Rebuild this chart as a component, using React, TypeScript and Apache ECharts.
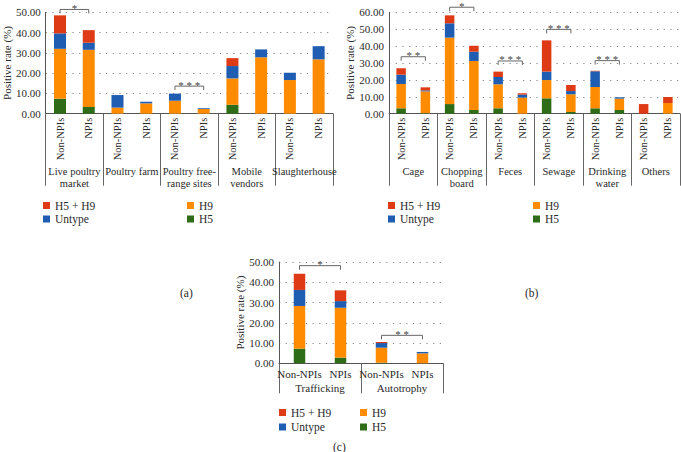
import React, { useEffect, useRef } from "react";
import * as echarts from "echarts";

// Subtype colours, stacked bottom to top: H5, H9, Untype, H5 + H9
const SUBTYPES = ["H5", "H9", "Untype", "H5 + H9"];
const COLORS: Record<string, string> = {
  H5: "#2E6C18",
  H9: "#FF8C00",
  Untype: "#1F5DB2",
  "H5 + H9": "#DF3A16",
};

// (a) sampling sites
const sitesA = ["Live poultry\nmarket", "Poultry farm", "Poultry free-\nrange sites", "Mobile\nvendors", "Slaughterhouse"];
const barsA = ["Non-NPIs", "NPIs", "Non-NPIs", "NPIs", "Non-NPIs", "NPIs", "Non-NPIs", "NPIs", "Non-NPIs", "NPIs"];
const h5A = [7.4, 3.3, 0, 0, 0, 0, 4.4, 0, 0, 0];
const h9A = [24.6, 28.2, 3.0, 5.1, 6.4, 2.3, 13.0, 27.8, 16.6, 26.8];
const untypeA = [7.6, 3.5, 6.2, 0.8, 3.5, 0.4, 6.1, 3.9, 3.6, 6.5];
const h5h9A = [8.9, 6.2, 0, 0, 0, 0, 3.9, 0, 0, 0];
const bracketsA = [
  [0, 1, 51.4, "*"],
  [4, 5, 13.6, "* * *"],
];

// (b) sample types
const sitesB = ["Cage", "Chopping\nboard", "Feces", "Sewage", "Drinking\nwater", "Others"];
const barsB = ["Non-NPIs", "NPIs", "Non-NPIs", "NPIs", "Non-NPIs", "NPIs", "Non-NPIs", "NPIs", "Non-NPIs", "NPIs", "Non-NPIs", "NPIs"];
const h5B = [3.2, 0.3, 5.7, 2.2, 3.2, 0, 9.1, 1.0, 3.2, 2.2, 0, 0];
const h9B = [14.4, 12.9, 39.3, 29.0, 14.2, 9.5, 10.8, 10.5, 12.6, 6.7, 0, 6.3];
const untypeB = [5.5, 0.6, 8.5, 5.5, 4.3, 1.8, 5.0, 1.9, 9.3, 0.8, 0, 0];
const h5h9B = [3.8, 1.8, 4.7, 3.5, 3.2, 0.8, 18.5, 3.6, 0.3, 0, 5.7, 3.6];
const bracketsB = [
  [0, 1, 33.7, "* *"],
  [2, 3, 63.0, "*"],
  [4, 5, 31.2, "* * *"],
  [6, 7, 49.9, "* * *"],
  [8, 9, 31.4, "* * *"],
];

// (c) poultry source
const sitesC = ["Trafficking", "Autotrophy"];
const barsC = ["Non-NPIs", "NPIs", "Non-NPIs", "NPIs"];
const h5C = [7.2, 2.8, 0.3, 0];
const h9C = [21.1, 24.6, 7.4, 4.9];
const untypeC = [7.9, 3.3, 2.3, 0.7];
const h5h9C = [8.0, 5.3, 0.5, 0];
const bracketsC = [
  [0, 1, 48.2, "*"],
  [2, 3, 13.8, "* *"],
];

const FONT = "Liberation Serif";
const TEXT = "#2a2a2a";
const AXIS = "#555";

function yAxis(grid: number, max: number) {
  return {
    type: "value",
    gridIndex: grid,
    min: 0,
    max,
    interval: 10,
    name: "Positive rate (%)",
    nameLocation: "middle",
    nameGap: 31,
    nameTextStyle: { fontFamily: FONT, fontSize: 11, color: TEXT },
    axisLine: { show: true, lineStyle: { color: AXIS, width: 1 } },
    axisTick: { show: false },
    axisLabel: {
      fontFamily: FONT,
      fontSize: 11,
      color: TEXT,
      margin: 5,
      formatter: (v: number) => v.toFixed(2),
    },
    splitLine: { show: true, lineStyle: { color: "#888", type: [1.2, 5.5], width: 1.2 } },
  };
}

function barAxis(grid: number, data: string[], rotate: number, margin: number) {
  return {
    type: "category",
    gridIndex: grid,
    position: "bottom",
    data,
    axisLine: { show: true, lineStyle: { color: AXIS, width: 1 } },
    axisTick: { show: false },
    axisLabel: {
      interval: 0,
      rotate,
      margin,
      hideOverlap: false,
      fontFamily: FONT,
      fontSize: rotate ? 10.5 : 11,
      color: TEXT,
    },
  };
}

function groupAxis(grid: number, data: string[], tickLen: number, margin: number, size: number) {
  return {
    type: "category",
    gridIndex: grid,
    position: "bottom",
    data,
    axisLine: { show: false },
    axisTick: { show: true, interval: 0, length: tickLen, lineStyle: { color: "#666", width: 1 } },
    axisLabel: {
      interval: 0,
      margin,
      hideOverlap: false,
      fontFamily: FONT,
      fontSize: size,
      lineHeight: 12,
      color: TEXT,
    },
    splitLine: { show: false },
  };
}

function stackSeries(axisIdx: number, stack: string, barWidth: number, values: number[][]) {
  return SUBTYPES.map((name, i) => ({
    type: "bar",
    name,
    xAxisIndex: axisIdx,
    yAxisIndex: axisIdx === 0 ? 0 : axisIdx === 2 ? 1 : 2,
    stack,
    barWidth,
    data: values[i],
    itemStyle: { color: COLORS[name] },
    emphasis: { disabled: true },
  }));
}

function bracketSeries(xIdx: number, yIdx: number, brackets: (number | string)[][]) {
  return {
    type: "custom",
    xAxisIndex: xIdx,
    yAxisIndex: yIdx,
    clip: false,
    silent: true,
    encode: { x: [0, 1], y: 2 },
    data: brackets.map((b) => [b[0], b[1], b[2]]),
    renderItem: (params: any, api: any) => {
      const a = api.coord([api.value(0), api.value(2)]);
      const b = api.coord([api.value(1), api.value(2)]);
      const tick = 4;
      return {
        type: "group",
        children: [
          {
            type: "polyline",
            shape: {
              points: [
                [a[0], a[1] + tick],
                [a[0], a[1]],
                [b[0], b[1]],
                [b[0], b[1] + tick],
              ],
            },
            style: { stroke: "#666", lineWidth: 1, fill: null },
          },
          {
            type: "text",
            style: {
              text: String(brackets[params.dataIndex][3]),
              x: (a[0] + b[0]) / 2,
              y: a[1] + 4,
              align: "center",
              verticalAlign: "bottom",
              fontFamily: FONT,
              fontSize: 11,
              fill: "#444",
            },
          },
        ],
      };
    },
  };
}

function legendPair(left: number, top: number, names: string[], gap: number) {
  return {
    left,
    top,
    orient: "vertical",
    data: names,
    icon: "rect",
    itemWidth: 7,
    itemHeight: 7,
    itemGap: gap,
    selectedMode: false,
    padding: 0,
    textStyle: { fontFamily: FONT, fontSize: 11.5, color: TEXT, lineHeight: 13 },
  };
}

export default function App() {
  const ref = useRef<HTMLDivElement>(null);

  useEffect(() => {
    if (!ref.current) return;
    const chart = echarts.init(ref.current, undefined, { renderer: "svg" });
    const option = {
      animation: false,
      backgroundColor: "#fff",
      grid: [
        { left: 42, right: 348, top: 12.3, bottom: 338.3 },
        { left: 389, right: 1, top: 12.3, bottom: 338.3 },
        { left: 279, right: 238, top: 262, bottom: 88.7 },
      ],
      xAxis: [
        barAxis(0, barsA, 90, 4),
        groupAxis(0, sitesA, 72, 52, 10.5),
        barAxis(1, barsB, 90, 4),
        groupAxis(1, sitesB, 72, 52, 10.5),
        barAxis(2, barsC, 0, 5),
        groupAxis(2, sitesC, 30, 19, 11),
      ],
      yAxis: [yAxis(0, 50), yAxis(1, 60), yAxis(2, 50)],
      legend: [
        legendPair(43, 199, ["H5 + H9", "Untype"], 0.5),
        legendPair(187, 199, ["H9", "H5"], 0.5),
        legendPair(388, 199, ["H5 + H9", "Untype"], 0.5),
        legendPair(533, 199, ["H9", "H5"], 0.5),
        legendPair(279, 406, ["H5 + H9", "Untype"], 1.5),
        legendPair(360, 406, ["H9", "H5"], 1.5),
      ],
      series: [
        ...stackSeries(0, "a", 12, [h5A, h9A, untypeA, h5h9A]),
        ...stackSeries(2, "b", 9.5, [h5B, h9B, untypeB, h5h9B]),
        ...stackSeries(4, "c", 11.5, [h5C, h9C, untypeC, h5h9C]),
        bracketSeries(0, 0, bracketsA),
        bracketSeries(2, 1, bracketsB),
        bracketSeries(4, 2, bracketsC),
      ],
      graphic: [
        { type: "text", left: 180, top: 287, style: { text: "(a)", fontFamily: FONT, fontSize: 11.5, fill: TEXT } },
        { type: "text", left: 525, top: 287, style: { text: "(b)", fontFamily: FONT, fontSize: 11.5, fill: TEXT } },
        { type: "text", left: 333, top: 441, style: { text: "(c)", fontFamily: FONT, fontSize: 11.5, fill: TEXT } },
      ],
    };
    chart.setOption(option as any);
    return () => chart.dispose();
  }, []);

  return (
    <div
      ref={ref}
      style={{ position: "fixed", left: 0, top: 0, width: 681, height: 452, background: "#fff" }}
    />
  );
}
